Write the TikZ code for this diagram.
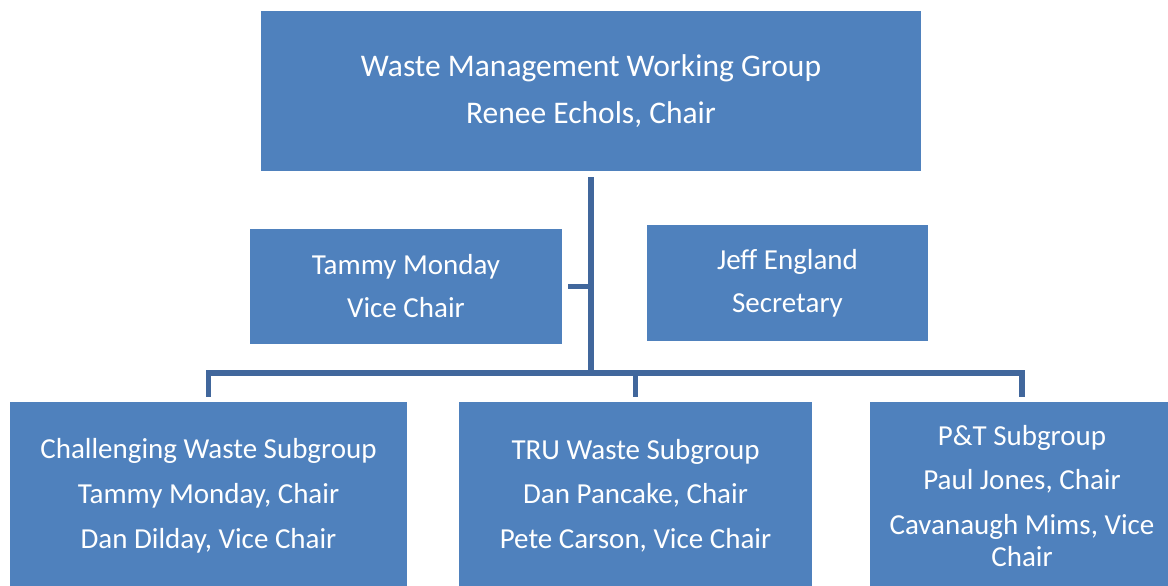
\documentclass[tikz,border=0pt]{standalone}
\usepackage{fontspec}
\setmainfont{Carlito}
\definecolor{boxblue}{HTML}{4F81BD}
\definecolor{linkblue}{HTML}{41679C}
\tikzset{
  orgbox/.style={fill=boxblue, draw=none, inner sep=0pt, align=center, text=white,
    font=\fontsize{29}{32}\selectfont},
  conn/.style={draw=linkblue, line width=5.5pt}
}
\begin{document}
\begin{tikzpicture}[x=1pt, y=-1pt]
\useasboundingbox (0,0) rectangle (1168,586);
\begin{scope}
\clip (0,0) rectangle (1168,586);
\node[orgbox, minimum width=660pt, minimum height=160pt, font=\fontsize{31.5}{34}\selectfont] (top) at (591,91)
  {Waste Management Working Group\\[13pt]Renee Echols, Chair};
\node[orgbox, minimum width=312pt, minimum height=115pt] (vc) at (406,286.5)
  {Tammy Monday\\[11pt]Vice Chair};
\node[orgbox, minimum width=281pt, minimum height=116pt] (sec) at (787.5,283)
  {\raisebox{-2.5pt}{Jeff England}\\[11pt]\raisebox{-2.5pt}{Secretary}};
\node[orgbox, minimum width=397pt, minimum height=188pt] (cw) at (208.5,496)
  {Challenging Waste Subgroup\\[13pt]Tammy Monday, Chair\\[13pt]Dan Dilday, Vice Chair};
\node[orgbox, minimum width=353pt, minimum height=188pt] (tru) at (635.5,496)
  {TRU Waste Subgroup\\[12pt]Dan Pancake, Chair\\[13pt]Pete Carson, Vice Chair};
\node[orgbox, minimum width=304pt, minimum height=188pt] (pt) at (1022,496)
  {P\&T Subgroup\\[12pt]Paul Jones, Chair\\[13pt]Cavanaugh Mims, Vice\\Chair};
\end{scope}
\coordinate (hub) at (591,373);
\draw[conn, shorten <=6pt] (top.south) -- (hub);
\draw[conn, shorten <=6pt] (vc.east) -- (vc.east -| hub);
\draw[conn, shorten <=5pt, shorten >=5pt] (cw.north) -- (cw.north |- hub) -- (pt.north |- hub) -- (pt.north);
\draw[conn, shorten >=5pt] (hub -| tru.north) -- (tru.north);
\end{tikzpicture}
\end{document}
